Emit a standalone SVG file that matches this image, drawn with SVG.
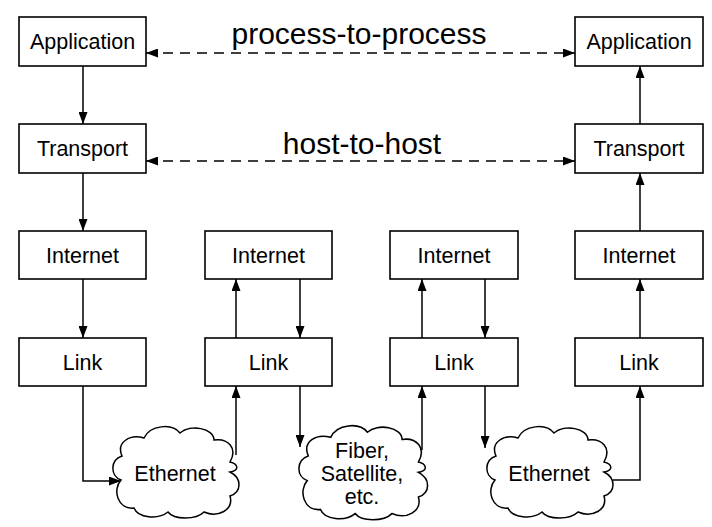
<svg xmlns="http://www.w3.org/2000/svg" width="712" height="527" viewBox="0 0 712 527">
<defs>
<style>
.box{fill:#fff;stroke:#000;stroke-width:1.6}
.t{font-family:"Liberation Sans",Arial,sans-serif;font-size:21.5px;text-anchor:middle;fill:#000}
.lbl{font-family:"Liberation Sans",Arial,sans-serif;font-size:30px;text-anchor:middle;fill:#000}
.c{fill:none;stroke:#000;stroke-width:1.5}
.d{fill:none;stroke:#000;stroke-width:1.5;stroke-dasharray:10 7}
.cloud{fill:#fff;stroke:#000;stroke-width:1.5}
</style>
<marker id="ah" viewBox="0 0 12 9" refX="12" refY="4.5" markerWidth="12" markerHeight="9" markerUnits="userSpaceOnUse" orient="auto-start-reverse">
<path d="M0,0 L12,4.5 L0,9 z" fill="#000"/>
</marker>
<path id="cloudShape" d="M11,54 C0,50 0,34 12,30 C6,16 20,8 34,12 C40,-1 62,-3 70,7 C80,-2 104,2 104,14 C118,12 128,22 120,36 C128,38 130,44 120,46 C132,52 132,66 120,70 C124,84 108,92 94,86 C86,94 64,94 58,86 C48,94 28,92 24,82 C8,84 2,64 11,54 Z"/>
</defs>

<g id="connectors">
<path class="d" d="M146,53 H575" marker-start="url(#ah)" marker-end="url(#ah)"/>
<path class="d" d="M146,161 H575" marker-start="url(#ah)" marker-end="url(#ah)"/>
<path class="c" d="M83,66 V124" marker-end="url(#ah)"/>
<path class="c" d="M83,173 V231" marker-end="url(#ah)"/>
<path class="c" d="M83,279 V338" marker-end="url(#ah)"/>
<path class="c" d="M83,386 V481 H121" marker-end="url(#ah)"/>
<path class="c" d="M236,455 V386" marker-end="url(#ah)"/>
<path class="c" d="M236,338 V279" marker-end="url(#ah)"/>
<path class="c" d="M300,279 V338" marker-end="url(#ah)"/>
<path class="c" d="M300,386 V447" marker-end="url(#ah)"/>
<path class="c" d="M422,450 V386" marker-end="url(#ah)"/>
<path class="c" d="M422,338 V279" marker-end="url(#ah)"/>
<path class="c" d="M485,279 V338" marker-end="url(#ah)"/>
<path class="c" d="M485,386 V448" marker-end="url(#ah)"/>
<path class="c" d="M613,480 H640 V386" marker-end="url(#ah)"/>
<path class="c" d="M640,338 V279" marker-end="url(#ah)"/>
<path class="c" d="M640,231 V173" marker-end="url(#ah)"/>
<path class="c" d="M640,124 V66" marker-end="url(#ah)"/>
</g>

<g id="label-process"><text class="lbl" x="359" y="44">process-to-process</text></g>
<g id="label-host"><text class="lbl" x="362" y="154">host-to-host</text></g>

<g id="app1"><rect class="box" x="19" y="17" width="127" height="49"/><text class="t" x="82.5" y="49">Application</text></g>
<g id="trans1"><rect class="box" x="19" y="124" width="127" height="49"/><text class="t" x="82.5" y="156">Transport</text></g>
<g id="inet1"><rect class="box" x="19" y="231" width="127" height="48"/><text class="t" x="82.5" y="263">Internet</text></g>
<g id="link1"><rect class="box" x="19" y="338" width="127" height="48"/><text class="t" x="82.5" y="370">Link</text></g>

<g id="inet2"><rect class="box" x="205" y="231" width="127" height="48"/><text class="t" x="268.5" y="263">Internet</text></g>
<g id="link2"><rect class="box" x="205" y="338" width="127" height="48"/><text class="t" x="268.5" y="370">Link</text></g>

<g id="inet3"><rect class="box" x="390" y="231" width="128" height="48"/><text class="t" x="454" y="263">Internet</text></g>
<g id="link3"><rect class="box" x="390" y="338" width="128" height="48"/><text class="t" x="454" y="370">Link</text></g>

<g id="app4"><rect class="box" x="575" y="17" width="128" height="49"/><text class="t" x="639" y="49">Application</text></g>
<g id="trans4"><rect class="box" x="575" y="124" width="128" height="49"/><text class="t" x="639" y="156">Transport</text></g>
<g id="inet4"><rect class="box" x="575" y="231" width="128" height="48"/><text class="t" x="639" y="263">Internet</text></g>
<g id="link4"><rect class="box" x="575" y="338" width="128" height="48"/><text class="t" x="639" y="370">Link</text></g>

<g id="cloud1"><use href="#cloudShape" class="cloud" transform="translate(110,426)"/><text class="t" x="175" y="481">Ethernet</text></g>
<g id="cloud2"><use href="#cloudShape" class="cloud" transform="translate(296,425) scale(1.02,1.03)"/><text class="t" x="362" y="458">Fiber,</text><text class="t" x="362" y="481">Satellite,</text><text class="t" x="362" y="504">etc.</text></g>
<g id="cloud3"><use href="#cloudShape" class="cloud" transform="translate(484,426)"/><text class="t" x="549" y="481">Ethernet</text></g>
</svg>
